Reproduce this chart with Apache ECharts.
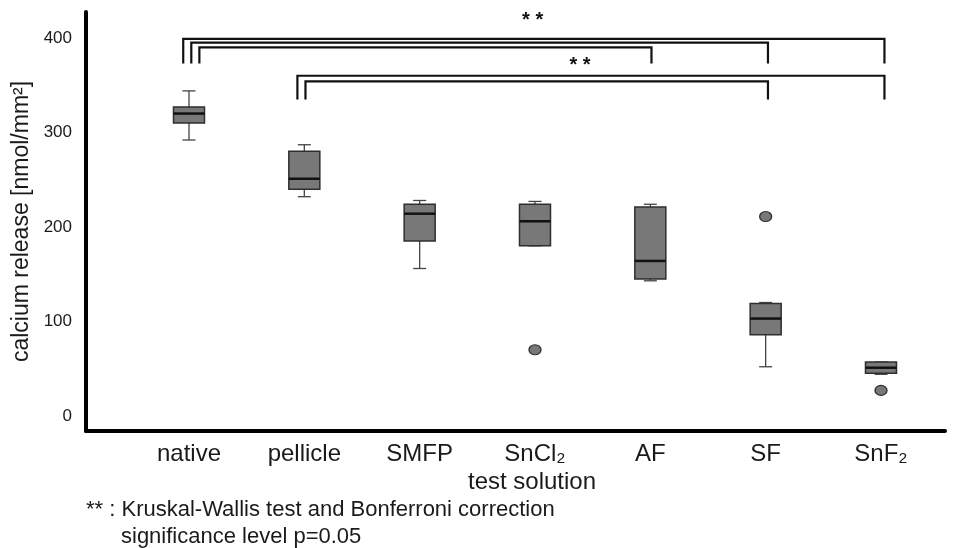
<!DOCTYPE html>
<html><head><meta charset="utf-8">
<script src="https://cdn.jsdelivr.net/npm/echarts@6/dist/echarts.min.js"></script>
<style>html,body{margin:0;padding:0;background:#fff}#c{width:963px;height:548px}</style>
</head><body><div id="c"></div>
<script>
// ---- data ----
const categories = ['native', 'pellicle', 'SMFP', 'SnCl₂', 'AF', 'SF', 'SnF₂'];
const whiskerLow  = [292, 232, 156, 180, 143, 52, 44];
const q1          = [310, 240, 185, 180, 145, 86, 45];
const median      = [320, 251, 214, 206, 164, 103, 51];
const q3          = [327, 280, 224, 224, 221, 119, 57];
const whiskerHigh = [344, 287, 228, 227, 224, 120, 57];
const outlierCat  = [3, 5, 6];
const outlierVal  = [70, 211, 27];
// significance brackets (category index from/to, top / bottom value)
const bracketFrom   = [-0.05, 0.02, 0.09, 0.94, 1.01];
const bracketTo     = [6.03, 5.02, 4.01, 6.03, 5.02];
const bracketTop    = [399, 395, 390, 360, 354];
const bracketBottom = [373, 373, 373, 335, 335];
const starX = [2.98, 3.39];
const starY = [419, 371];
const starText = ['* *', '* *'];
const yTicks = [0, 100, 200, 300, 400];
const xTicks = categories.map((c, i) => i);

const FONT = 'Liberation Sans, Arial, sans-serif';
const chart = echarts.init(document.getElementById('c'));

const boxData = categories.map((c, i) => [i, whiskerLow[i], q1[i], median[i], q3[i], whiskerHigh[i]]);
const outlierData = outlierCat.map((c, i) => [c, outlierVal[i]]);
const bracketData = bracketFrom.map((f, i) => [f, bracketTo[i], bracketTop[i], bracketBottom[i]]);
const starData = starX.map((x, i) => [x, starY[i], starText[i]]);

chart.setOption({
  animation: false,
  backgroundColor: '#fff',
  grid: { left: 86, right: 18, top: 12, bottom: 117 },
  xAxis: {
    type: 'value', min: -0.893, max: 6.555,
    axisLine: { show: true, onZero: false, lineStyle: { color: '#000', width: 4 } },
    axisTick: { show: false },
    splitLine: { show: false },
    axisLabel: {
      customValues: xTicks,
      formatter: v => categories[Math.round(v)],
      fontSize: 24, color: '#1a1a1a', margin: 11, fontFamily: FONT
    }
  },
  yAxis: {
    type: 'value', min: -16, max: 427.5,
    axisLine: { show: true, onZero: false, lineStyle: { color: '#000', width: 4 } },
    axisTick: { show: false },
    splitLine: { show: false },
    axisLabel: { customValues: yTicks, fontSize: 17, color: '#1a1a1a', margin: 14, fontFamily: FONT },
    name: 'calcium release [nmol/mm²]',
    nameLocation: 'middle', nameGap: 50,
    nameTextStyle: { fontSize: 23, color: '#1a1a1a', fontFamily: FONT }
  },
  graphic: [
    { type: 'text', x: 532, y: 482, style: { text: 'test solution', font: '24px ' + FONT, fill: '#1a1a1a', textAlign: 'center', textVerticalAlign: 'middle' } },
    { type: 'text', x: 86, y: 510, style: { text: '** : Kruskal-Wallis test and Bonferroni correction', font: '22px ' + FONT, fill: '#1a1a1a', textAlign: 'left', textVerticalAlign: 'middle' } },
    { type: 'text', x: 121, y: 537, style: { text: 'significance level p=0.05', font: '22px ' + FONT, fill: '#1a1a1a', textAlign: 'left', textVerticalAlign: 'middle' } }
  ],
  series: [
    {
      type: 'custom', data: boxData, clip: false,
      encode: { x: 0, y: [1, 2, 3, 4, 5] },
      renderItem: function (params, api) {
        const i = api.value(0);
        const lo = api.coord([i, api.value(1)]);
        const b1 = api.coord([i, api.value(2)]);
        const md = api.coord([i, api.value(3)]);
        const b3 = api.coord([i, api.value(4)]);
        const hi = api.coord([i, api.value(5)]);
        const cx = lo[0], hw = 15.5, cw = 6.5;
        const wl = { stroke: '#444', lineWidth: 1.3 };
        return {
          type: 'group', children: [
            { type: 'line', shape: { x1: cx, y1: hi[1], x2: cx, y2: b3[1] }, style: wl },
            { type: 'line', shape: { x1: cx, y1: b1[1], x2: cx, y2: lo[1] }, style: wl },
            { type: 'line', shape: { x1: cx - cw, y1: hi[1], x2: cx + cw, y2: hi[1] }, style: wl },
            { type: 'line', shape: { x1: cx - cw, y1: lo[1], x2: cx + cw, y2: lo[1] }, style: wl },
            { type: 'rect', shape: { x: cx - hw, y: b3[1], width: hw * 2, height: b1[1] - b3[1] }, style: { fill: '#787878', stroke: '#2e2e2e', lineWidth: 1.5 } },
            { type: 'line', shape: { x1: cx - hw, y1: md[1], x2: cx + hw, y2: md[1] }, style: { stroke: '#111', lineWidth: 2.5 } }
          ]
        };
      }
    },
    {
      type: 'scatter', data: outlierData, symbol: 'circle', symbolSize: [12, 10],
      itemStyle: { color: '#787878', borderColor: '#2e2e2e', borderWidth: 1.2, opacity: 1 }
    },
    {
      type: 'custom', data: bracketData, clip: false,
      encode: { x: [0, 1], y: [2, 3] },
      renderItem: function (params, api) {
        const a = api.coord([api.value(0), api.value(3)]);
        const b = api.coord([api.value(0), api.value(2)]);
        const c = api.coord([api.value(1), api.value(2)]);
        const d = api.coord([api.value(1), api.value(3)]);
        return { type: 'polyline', shape: { points: [a, b, c, d] }, style: { stroke: '#111', lineWidth: 2.2, fill: null } };
      }
    },
    {
      type: 'custom', data: starData, clip: false,
      encode: { x: 0, y: 1 },
      renderItem: function (params, api) {
        const p = api.coord([api.value(0), api.value(1)]);
        return { type: 'text', x: p[0], y: p[1], style: { text: starData[params.dataIndex][2], font: 'bold 20px ' + FONT, fill: '#111', textAlign: 'center', textVerticalAlign: 'middle' } };
      }
    }
  ]
});
</script>
</body></html>
